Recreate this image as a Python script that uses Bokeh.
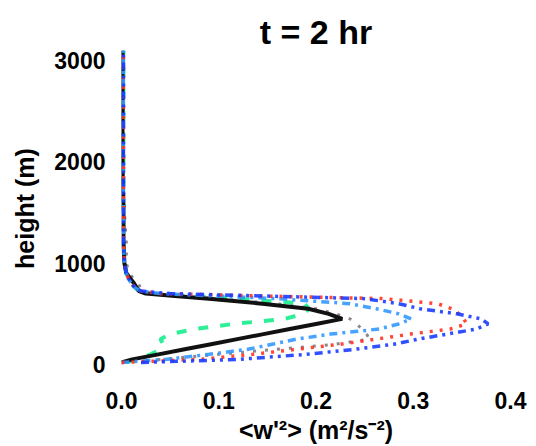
from bokeh.plotting import figure
from bokeh.models import Range1d, FixedTicker, PrintfTickFormatter
from bokeh.embed import file_html
from bokeh.resources import INLINE

# heights (m)
heights = [20, 50, 100, 150, 200, 250, 300, 350, 400, 450, 500, 550, 600,
           650, 675, 700, 725, 750, 800, 850, 900, 1000, 1200, 1500, 2000, 2500, 3100]

# <w'^2> (m^2/s^2) per series
w2_gray = [0.0, 0.04, 0.10, 0.16, 0.22, 0.255, 0.252, 0.247, 0.242, 0.235, 0.22, 0.20, 0.16,
           0.10, 0.06, 0.03, 0.022, 0.02, 0.017, 0.012, 0.008, 0.005, 0.005, 0.003, 0.002, 0.002, 0.002]
w2_green = [0.005, 0.015, 0.03, 0.04, 0.043, 0.04, 0.05, 0.075, 0.115, 0.168, 0.187, 0.193, 0.188,
            0.12, 0.07, 0.03, 0.018, 0.015, 0.01, 0.007, 0.005, 0.003, 0.002, 0.002, 0.002, 0.002, 0.002]
w2_black = [0.0, 0.011, 0.038, 0.065, 0.092, 0.119, 0.146, 0.173, 0.200, 0.227, 0.213, 0.192, 0.145,
            0.09, 0.055, 0.025, 0.018, 0.016, 0.013, 0.009, 0.005, 0.003, 0.002, 0.002, 0.001, 0.001, 0.001]
w2_lightblue = [0.0, 0.045, 0.09, 0.13, 0.155, 0.18, 0.215, 0.265, 0.285, 0.298, 0.285, 0.262, 0.235,
                0.16, 0.10, 0.04, 0.02, 0.015, 0.01, 0.007, 0.005, 0.003, 0.002, 0.002, 0.002, 0.002, 0.002]
w2_red = [0.0, 0.08, 0.135, 0.18, 0.225, 0.262, 0.297, 0.338, 0.355, 0.352, 0.347, 0.34, 0.325,
          0.27, 0.15, 0.04, 0.02, 0.015, 0.01, 0.007, 0.005, 0.003, 0.002, 0.002, 0.002, 0.002, 0.002]
w2_blue = [0.02, 0.12, 0.19, 0.24, 0.28, 0.305, 0.335, 0.365, 0.377, 0.37, 0.345, 0.307, 0.285,
           0.25, 0.15, 0.05, 0.02, 0.015, 0.01, 0.007, 0.005, 0.003, 0.002, 0.002, 0.002, 0.002, 0.002]

x_ticks = [0.0, 0.1, 0.2, 0.3, 0.4]
y_ticks = [0, 1000, 2000, 3000]
title_text = "t = 2 hr"

FONT = "Liberation Sans"

p = figure(width=536, height=446, output_backend="svg", toolbar_location=None,
           x_range=Range1d(0, 0.4), y_range=Range1d(-20, 3100),
           min_border_left=121, min_border_right=26, min_border_top=50, min_border_bottom=78,
           title=title_text)
p.title.align = "center"
p.title.vertical_align = "bottom"
p.title.text_font = FONT
p.title.text_font_size = "34px"
p.title.text_font_style = "bold"
p.title.text_color = "black"
p.title.standoff = 0
p.title.text_line_height = 0.6
p.outline_line_color = None
p.xgrid.grid_line_color = None
p.ygrid.grid_line_color = None
p.background_fill_color = "white"
p.border_fill_color = "white"

for ax in (p.xaxis[0], p.yaxis[0]):
    ax.axis_line_color = None
    ax.major_tick_line_color = None
    ax.minor_tick_line_color = None
    ax.major_label_text_font = FONT
    ax.major_label_text_font_style = "bold"
    ax.major_label_text_font_size = "23px"
    ax.major_label_text_color = "black"
    ax.axis_label_text_font = FONT
    ax.axis_label_text_font_style = "bold"
    ax.axis_label_text_font_size = "25px"
    ax.axis_label_text_color = "black"

p.xaxis.ticker = FixedTicker(ticks=x_ticks)
p.xaxis.formatter = PrintfTickFormatter(format="%.1f")
p.xaxis.major_label_standoff = 19
p.xaxis.axis_label = "<w'²> (m²/s⁻²)"
p.xaxis.axis_label_standoff = 4

p.yaxis.ticker = FixedTicker(ticks=y_ticks)
p.yaxis.major_label_standoff = 10
p.yaxis.axis_label = "height (m)"
p.yaxis.axis_label_standoff = 12

p.line(w2_gray, heights, line_color="#857880", line_width=3, line_dash="3 9", line_alpha=0.9)
p.line(w2_green, heights, line_color="#22ee90", line_width=4, line_dash="10 12", line_alpha=0.95)
p.line(w2_black, heights, line_color="#111111", line_width=4)
p.line(w2_lightblue, heights, line_color="#3399ff", line_width=3.5, line_dash="8 5 3 5", line_alpha=0.9)
p.line(w2_red, heights, line_color="#ff3322", line_width=3.5, line_dash="3 7", line_alpha=0.9)
p.line(w2_blue, heights, line_color="#1a3cff", line_width=3.5, line_dash="8 5 3 5 3 5", line_alpha=0.9)

open("out.html", "w").write(file_html(p, INLINE))
